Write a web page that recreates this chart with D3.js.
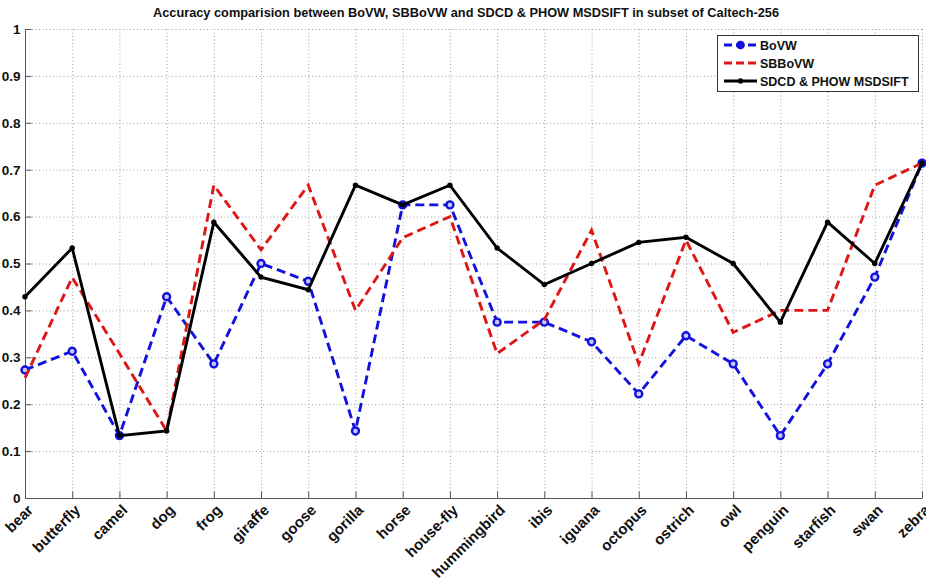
<!DOCTYPE html>
<html>
<head>
<meta charset="utf-8">
<script src="https://cdn.jsdelivr.net/npm/d3@7"></script>
<style>
  html, body { margin: 0; padding: 0; background: #fff; }
  svg { display: block; font-family: Arial, "Liberation Sans", Helvetica, sans-serif; }
</style>
</head>
<body>
<svg id="chart" width="926" height="578"></svg>
<script>
// Per-category accuracy for the 20 Caltech-256 classes
const categories = ["bear", "butterfly", "camel", "dog", "frog", "giraffe", "goose", "gorilla", "horse", "house-fly",
  "hummingbird", "ibis", "iguana", "octopus", "ostrich", "owl", "penguin", "starfish", "swan", "zebra"];

const bovw   = [0.273, 0.313, 0.133, 0.429, 0.286, 0.500, 0.462, 0.143, 0.625, 0.625,
                0.375, 0.375, 0.333, 0.222, 0.346, 0.286, 0.133, 0.286, 0.471, 0.714];
const sbbovw = [0.256, 0.470, 0.308, 0.143, 0.667, 0.529, 0.667, 0.400, 0.555, 0.600,
                0.308, 0.380, 0.571, 0.286, 0.550, 0.353, 0.400, 0.400, 0.667, 0.714];
const sdcd   = [0.429, 0.533, 0.133, 0.143, 0.588, 0.471, 0.444, 0.667, 0.625, 0.667,
                0.533, 0.455, 0.500, 0.545, 0.556, 0.500, 0.375, 0.588, 0.500, 0.714];

const yTicks = [0, 0.1, 0.2, 0.3, 0.4, 0.5, 0.6, 0.7, 0.8, 0.9, 1];
const titleText = "Accuracy comparision between BoVW, SBBoVW and SDCD & PHOW MSDSIFT in subset of Caltech-256";

const seriesList = [
  { name: "BoVW", values: bovw, color: "#1212dc", dash: "9,5", marker: "circle" },
  { name: "SBBoVW", values: sbbovw, color: "#dd1616", dash: "9,5", marker: "none" },
  { name: "SDCD & PHOW MSDSIFT", values: sdcd, color: "#000000", dash: null, marker: "dot" }
];

const svg = d3.select("#chart");
const plotL = 25, plotR = 922, plotT = 29, plotB = 498;

const x = d3.scalePoint().domain(categories).range([plotL, plotR]);
const y = d3.scaleLinear().domain([0, 1]).range([plotB, plotT]);

// Dotted grid
const grid = svg.append("g").attr("stroke", "#a0a0a0").attr("stroke-width", 1)
  .attr("stroke-dasharray", "1,2.5");
grid.selectAll("line.gy").data(yTicks.filter(d => d > 0)).join("line")
  .attr("class", "gy")
  .attr("x1", plotL).attr("x2", plotR)
  .attr("y1", d => y(d) + 0.5).attr("y2", d => y(d) + 0.5);
grid.selectAll("line.gx").data(categories.slice(1)).join("line")
  .attr("class", "gx")
  .attr("x1", d => x(d) + 0.5).attr("x2", d => x(d) + 0.5)
  .attr("y1", plotT).attr("y2", plotB);

// Y axis
const yAxis = svg.append("g")
  .attr("transform", `translate(${plotL + 0.5},0)`)
  .call(d3.axisLeft(y).tickValues(yTicks).tickSize(-6).tickPadding(5)
    .tickFormat(d => d === 0 ? "0" : d === 1 ? "1" : d3.format(".1f")(d)));
yAxis.select(".domain").attr("stroke", "#555").attr("d", `M0,${plotT}V${plotB}`);
yAxis.selectAll(".tick line").attr("stroke", "#555");
yAxis.selectAll(".tick text")
  .attr("font-size", 13.5).attr("font-weight", "bold").attr("fill", "#111")
  .attr("font-family", "Arial, 'Liberation Sans', sans-serif");

// X axis
const xAxis = svg.append("g")
  .attr("transform", `translate(0,${plotB + 0.5})`)
  .call(d3.axisBottom(x).tickSize(-7).tickSizeOuter(0).tickFormat(""));
xAxis.select(".domain").attr("stroke", "#555").attr("d", `M${plotL},0H${plotR}`);
xAxis.selectAll(".tick line").attr("stroke", "#555");

// Rotated category labels
svg.append("g").selectAll("text").data(categories).join("text")
  .attr("transform", d => `translate(${x(d) + 9},${plotB + 13}) rotate(-45)`)
  .attr("text-anchor", "end")
  .attr("font-size", 15).attr("font-weight", "bold").attr("fill", "#111")
  .text(d => d);

// Series lines
const line = d3.line().x((d, i) => x(categories[i])).y(d => y(d));
seriesList.forEach(s => {
  const g = svg.append("g");
  g.append("path").datum(s.values)
    .attr("d", line)
    .attr("fill", "none")
    .attr("stroke", s.color)
    .attr("stroke-width", 2.9)
    .attr("stroke-linejoin", "miter")
    .attr("stroke-dasharray", s.dash);
  if (s.marker === "circle") {
    g.selectAll("circle").data(s.values).join("circle")
      .attr("cx", (d, i) => x(categories[i])).attr("cy", d => y(d))
      .attr("r", 3.5).attr("fill", "#c8c8f4").attr("stroke", s.color).attr("stroke-width", 2.4);
  } else if (s.marker === "dot") {
    g.selectAll("circle").data(s.values).join("circle")
      .attr("cx", (d, i) => x(categories[i])).attr("cy", d => y(d))
      .attr("r", 2.7).attr("fill", s.color);
  }
});

// Title
svg.append("text")
  .attr("x", 466).attr("y", 17)
  .attr("text-anchor", "middle")
  .attr("font-size", 12.2).attr("font-weight", "bold").attr("fill", "#111")
  .attr("textLength", 626).attr("lengthAdjust", "spacingAndGlyphs")
  .text(titleText);

// Legend
const legend = svg.append("g");
legend.append("rect")
  .attr("x", 717.5).attr("y", 35.5).attr("width", 201).attr("height", 56)
  .attr("fill", "#fff").attr("stroke", "#333").attr("stroke-width", 1);
const rowY = [45, 63, 81];
seriesList.forEach((s, i) => {
  const ry = rowY[i];
  legend.append("line")
    .attr("x1", 724).attr("x2", 757).attr("y1", ry).attr("y2", ry)
    .attr("stroke", s.color).attr("stroke-width", 2.9)
    .attr("stroke-dasharray", s.dash ? "8,4" : null);
  if (s.marker === "circle") {
    legend.append("circle").attr("cx", 740.5).attr("cy", ry).attr("r", 3.6)
      .attr("fill", s.color).attr("stroke", s.color).attr("stroke-width", 1.5);
  } else if (s.marker === "dot") {
    legend.append("circle").attr("cx", 740.5).attr("cy", ry).attr("r", 2.7).attr("fill", s.color);
  }
  legend.append("text")
    .attr("x", 760).attr("y", ry).attr("dy", "0.36em")
    .attr("font-size", 12.5).attr("font-weight", "bold").attr("fill", "#111")
    .text(s.name);
});
</script>
</body>
</html>
